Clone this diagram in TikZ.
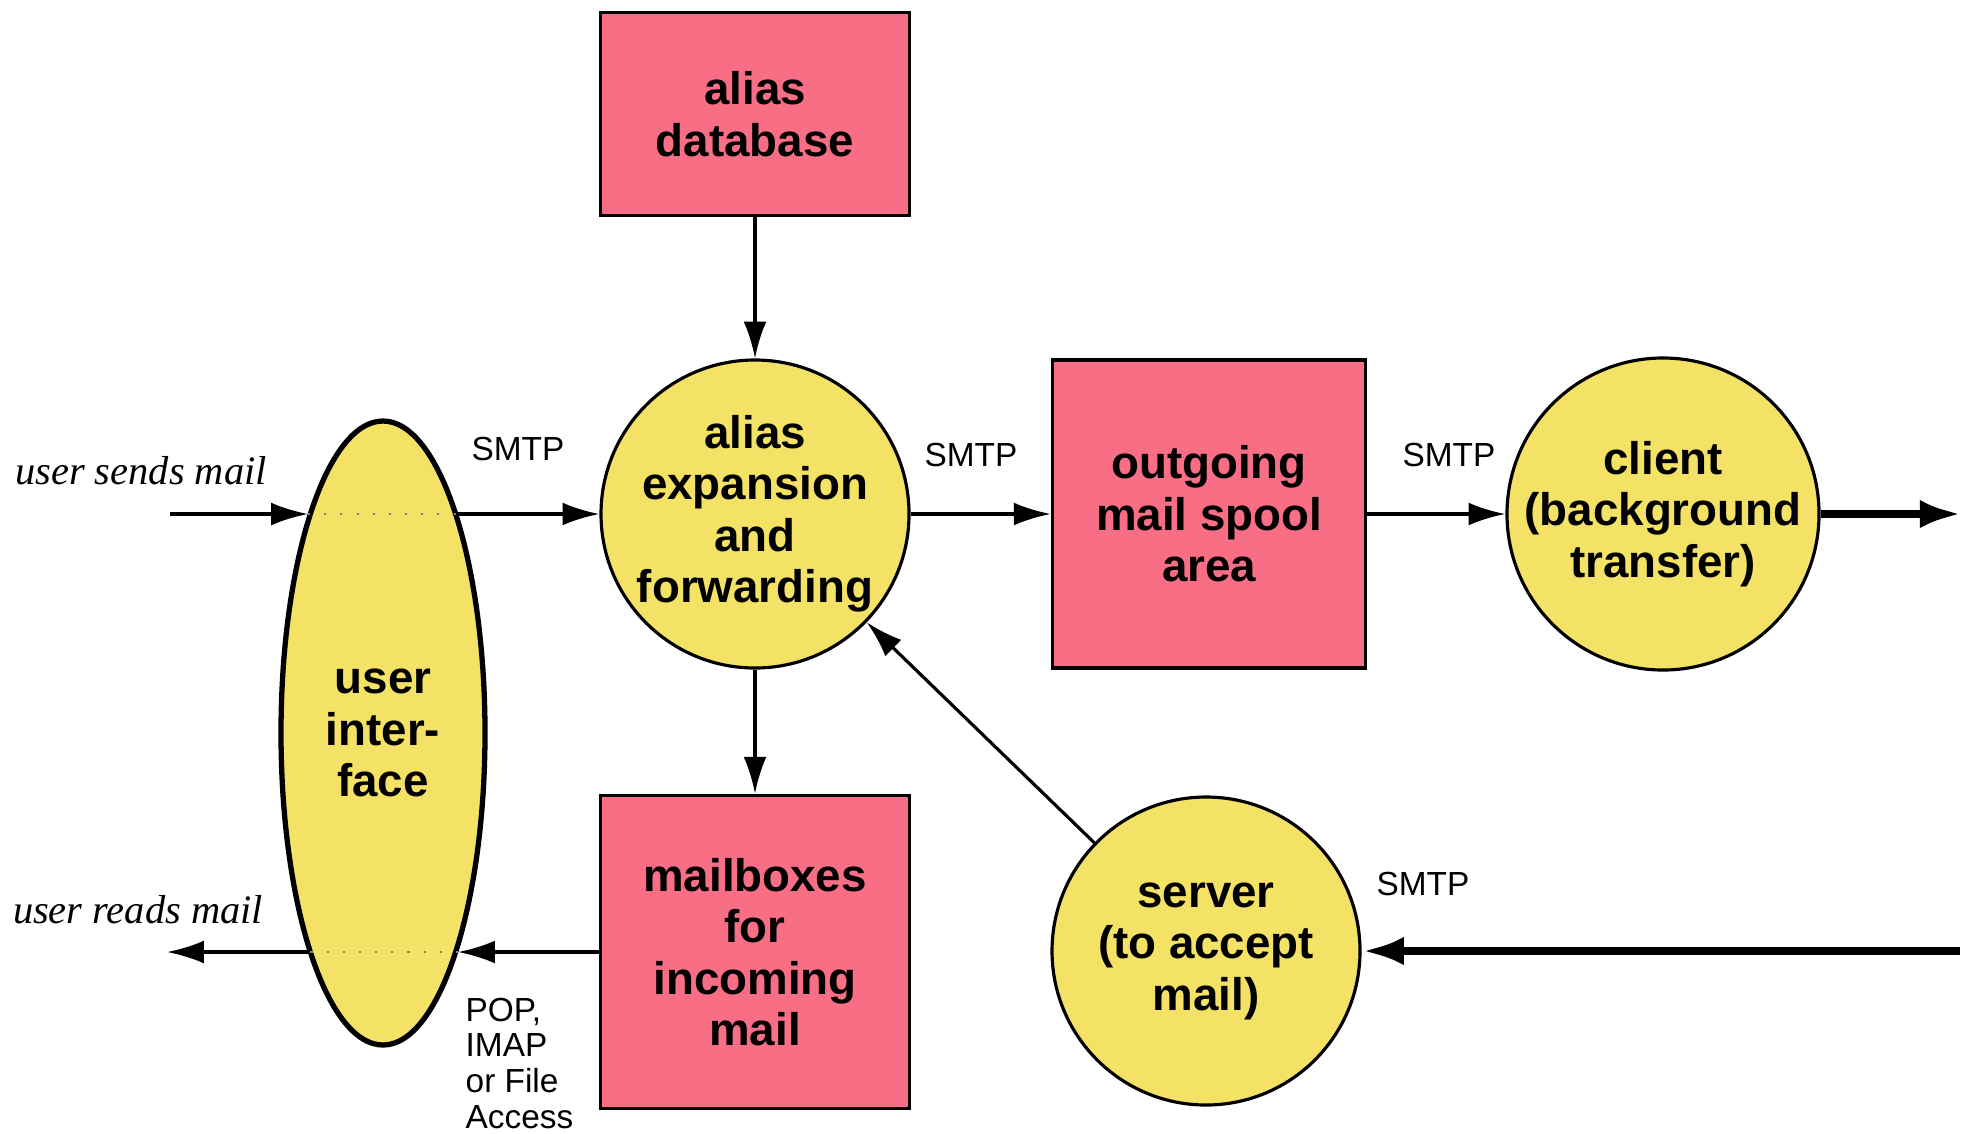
\documentclass[tikz,border=0pt]{standalone}
\usepackage{fontspec}
\setmainfont{Liberation Serif}
\setsansfont{Liberation Sans}
\usepackage{tikz}
\usetikzlibrary{shapes,arrows.meta}
\definecolor{spoolpink}{RGB}{247,110,133}
\definecolor{procyellow}{RGB}{243,226,102}
\tikzset{store/.style={draw=black,line width=1pt,fill=spoolpink,align=center,inner sep=0pt,font=\sffamily\bfseries\fontsize{13}{14.65}\selectfont}}
\tikzset{proc/.style={circle,draw=black,line width=0.9pt,fill=procyellow,minimum size=3.08cm,align=center,inner sep=0pt,font=\sffamily\bfseries\fontsize{13}{14.65}\selectfont}}
\tikzset{flow/.style={-{Latex[length=10.5pt,width=6.5pt]},line width=0.9pt}}
\tikzset{bigflow/.style={-{Latex[length=12pt,width=8pt]},line width=2.5pt}}
\tikzset{proto/.style={inner sep=0pt,font=\sffamily\fontsize{9.5}{10.2}\selectfont}}
\tikzset{useract/.style={inner sep=0pt,font=\itshape\fontsize{11.5}{13}\selectfont}}
\tikzset{crossing/.style={gray,line width=0.5pt,dash pattern=on 0.6pt off 4pt}}

\begin{document}
\begin{tikzpicture}
	\useasboundingbox (0,0) rectangle (19.70,11.33);

	%% stores
	\node[store,minimum width=3.09cm,minimum height=2.03cm] (aliasdb) at (7.55,10.19) {alias\\database};
	\node[store,minimum width=3.13cm,minimum height=3.08cm] (spool) at (12.09,6.19) {outgoing\\mail spool\\area};
	\node[store,minimum width=3.09cm,minimum height=3.13cm] (mailbox) at (7.55,1.81) {mailboxes\\for\\incoming\\mail};

	%% processes
	\node[proc] (expand) at (7.55,6.19) {alias\\expansion\\and\\forwarding};
	\node[proc] (client) at (16.63,6.19) {client\\(background\\transfer)};
	\node[proc] (server) at (12.06,1.82) {server\\(to accept\\mail)};
	\node[proc,ellipse,line width=1.5pt,minimum width=2.04cm,minimum height=6.24cm] (ui) at (3.83,4.00) {user\\inter-\\face};

	%% free ends and rim points of the user interface
	\coordinate (sendin) at (1.70,6.19);
	\coordinate (readout) at (1.67,1.81);
	\coordinate (outright) at (19.62,0 |- client.east);
	\coordinate (inright) at (19.60,0 |- server.east);
	\coordinate (uisendl) at (3.08,6.19);
	\coordinate (uisendr) at (4.58,6.19);
	\coordinate (uireadl) at (3.08,1.81);
	\coordinate (uireadr) at (4.58,1.81);

	%% user side
	\draw[flow] (sendin) -- (uisendl);
	\draw[crossing] (uisendl) -- (uisendr);
	\draw[flow] (uisendr) -- (expand.west);
	\draw[flow] (mailbox.west) -- (uireadr);
	\draw[crossing] (uireadr) -- (uireadl);
	\draw[flow] (uireadl) -- (readout);

	%% mail flow
	\draw[flow] (aliasdb.south) -- (expand.north);
	\draw[flow] (expand.south) -- (mailbox.north);
	\draw[flow] (expand.east) -- (spool.west);
	\draw[flow] (spool.east) -- (client.west);
	\draw[bigflow] (client.east) -- (outright);
	\draw[bigflow] (inright) -- (server.east);
	\draw[flow] (server) -- (expand);

	%% labels
	\node[useract] (sends) at (1.41,6.62) {user sends mail};
	\node[useract] (reads) at (1.38,2.23) {user reads mail};
	\node[proto] (smtpa) at (5.18,6.84) {SMTP};
	\node[proto] (smtpb) at (9.71,6.78) {SMTP};
	\node[proto] (smtpc) at (14.49,6.78) {SMTP};
	\node[proto] (smtpd) at (14.23,2.49) {SMTP};
	\node[proto,anchor=north west,align=left] (access) at (4.65,1.36) {POP,\\IMAP\\or File\\Access};

\end{tikzpicture}
\end{document}
